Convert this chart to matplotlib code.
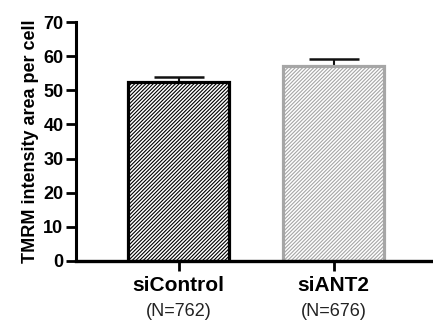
import matplotlib.pyplot as plt
from matplotlib import transforms

plt.rcParams['font.family'] = ['Liberation Sans', 'DejaVu Sans']
plt.rcParams['hatch.linewidth'] = 0.8

# data
groups = ["siControl", "siANT2"]
counts = ["(N=762)", "(N=676)"]
means = [52.4, 57.2]
sem = [1.4, 2.0]

edge_colors = ["black", "#a6a6a6"]
hatch_colors = ["#3c3c3c", "#b0b0b0"]

fig = plt.figure(figsize=(4.33, 3.25), dpi=100)
ax = fig.add_axes([0.1755, 0.197, 0.83, 0.735])

x = range(len(groups))
for i in x:
    plt.rcParams['hatch.color'] = hatch_colors[i]
    ax.bar(i, means[i], width=0.65, color="white", edgecolor=edge_colors[i],
           linewidth=2.3, hatch="/" * 9, zorder=2)
    ax.errorbar(i, means[i], yerr=[[0], [sem[i]]], fmt="none",
                ecolor="#111111", elinewidth=1.5,
                capsize=18, capthick=1.8, zorder=1)

ax.set_xlim(-0.662, 1.656)
ax.set_ylim(0, 70)
ax.set_yticks(range(0, 71, 10))
ax.set_xticks(list(x))
ax.set_xticklabels(groups, fontsize=15, fontweight="bold")
for lab in ax.get_yticklabels():
    lab.set_fontweight("bold")
ax.tick_params(axis="y", labelsize=13, width=2, length=7, pad=2)
ax.tick_params(axis="x", width=2, length=7, pad=4)

trans = transforms.blended_transform_factory(ax.transData, fig.transFigure)
for i, c in enumerate(counts):
    ax.text(i, 1 - 312 / 325, c, transform=trans, ha="center", va="center",
            fontsize=13, color="#222222")

ax.spines["top"].set_visible(False)
ax.spines["right"].set_visible(False)
ax.spines["left"].set_linewidth(2.2)
ax.spines["bottom"].set_linewidth(2.4)

ax.set_ylabel("TMRM intensity area per cell", fontsize=13, fontweight="bold",
              labelpad=3)

fig.savefig("out.png", dpi=100)
